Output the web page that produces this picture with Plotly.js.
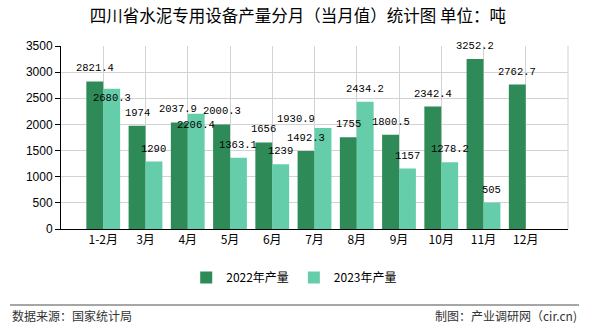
<!DOCTYPE html>
<html><head><meta charset="utf-8">
<script src="https://cdn.plot.ly/plotly-3.0.1.min.js"></script>
<style>html,body{margin:0;padding:0;background:#fff}#chart{width:590px;height:330px}</style>
</head><body><div id="chart"></div>
<script>
const categories = ['1-2月','3月','4月','5月','6月','7月','8月','9月','10月','11月','12月'];
const values2022 = [2821.4, 1974, 2037.9, 2000.3, 1656, 1492.3, 1755, 1800.5, 2342.4, 3252.2, 2762.7];
const values2023 = [2680.3, 1290, 2206.4, 1363.1, 1239, 1930.9, 2434.2, 1157, 1278.2, 505, null];
const seriesNames = ['2022年产量', '2023年产量'];
const seriesColors = ['#2E8B57', '#66CDAA'];
const tickVals = [0, 500, 1000, 1500, 2000, 2500, 3000, 3500];

// label nudges (pixels) used in the original to avoid overlapping labels
const labelNudge = {'1-1-2月': [0, -22], '1-4月': [0, -24], '0-4月': [-1.5, 0], '1-7月': [-27, -4]};

const labelFont = {family: 'Liberation Mono, DejaVu Sans Mono, monospace', size: 10.5, color: '#000'};
const data = [values2022, values2023].map((vals, i) => ({
  type: 'bar', x: categories, y: vals, name: seriesNames[i],
  marker: {color: seriesColors[i], line: {width: 0}}, hoverinfo: 'none'
}));
const annotations = [];
[values2022, values2023].forEach((vals, s) => {
  vals.forEach((v, j) => {
    if (v == null) return;
    const n = labelNudge[s + '-' + categories[j]] || [0, 0];
    annotations.push({text: String(v), x: categories[j], y: v, xref: 'x', yref: 'y',
      showarrow: false, xanchor: 'center', yanchor: 'middle',
      xshift: (s === 0 ? -8.45 : 8.45) + n[0], yshift: 13 + n[1], font: labelFont});
  });
});
annotations.push(
  {text: '数据来源：国家统计局', xref: 'paper', yref: 'paper', x: -0.1006, xanchor: 'left', y: -0.475, yanchor: 'middle', showarrow: false,
   font: {family: 'Noto Sans CJK SC, sans-serif', size: 12, color: '#333'}},
  {text: '制图：产业调研网（cir.cn)', xref: 'paper', yref: 'paper', x: 1.0217, xanchor: 'right', y: -0.475, yanchor: 'middle', showarrow: false,
   font: {family: 'Noto Sans CJK SC, sans-serif', size: 12, color: '#333'}}
);
const layout = {
  width: 590, height: 330,
  margin: {l: 61, r: 22, t: 46, b: 101},
  paper_bgcolor: '#fff', plot_bgcolor: '#fff',
  font: {family: 'Liberation Sans, Arial, sans-serif', size: 12, color: '#000'},
  title: {text: '四川省水泥专用设备产量分月（当月值）统计图 单位：吨', x: 0.505, xanchor: 'center', y: 0.95, yanchor: 'middle',
          font: {family: 'Noto Sans CJK SC, sans-serif', size: 16.5, color: '#000'}},
  barmode: 'group', bargap: 0.2, bargroupgap: 0,
  xaxis: {type: 'category', range: [-1, 11], showgrid: true, gridcolor: '#d3d3d3', gridwidth: 1,
          showline: true, linecolor: '#000', linewidth: 1, ticks: '', zeroline: false,
          tickfont: {family: 'Noto Sans CJK SC, sans-serif', size: 12, color: '#000'}},
  yaxis: {range: [0, 3500], tickvals: tickVals, showgrid: true, gridcolor: '#d3d3d3', gridwidth: 1,
          showline: true, linecolor: '#000', linewidth: 1, ticks: 'outside', ticklen: 5, tickcolor: '#000',
          zeroline: false, tickfont: {family: 'Liberation Sans, Arial, sans-serif', size: 12, color: '#000'}},
  showlegend: true,
  legend: {orientation: 'h', x: 0.46, xanchor: 'center', y: -0.265, yanchor: 'middle',
           font: {family: 'Noto Sans CJK SC, sans-serif', size: 12, color: '#000'}, tracegroupgap: 0},
  shapes: [
    {type: 'line', xref: 'paper', yref: 'paper', x0: 1, x1: 1, y0: 0, y1: 1, line: {color: '#d3d3d3', width: 1}},
    {type: 'line', xref: 'paper', yref: 'paper', x0: -0.1006, x1: 1.0217, y0: -0.415, y1: -0.415, line: {color: '#888', width: 1.5}}
  ],
  annotations: annotations
};
Plotly.newPlot('chart', data, layout, {displayModeBar: false, staticPlot: true});
</script></body></html>
